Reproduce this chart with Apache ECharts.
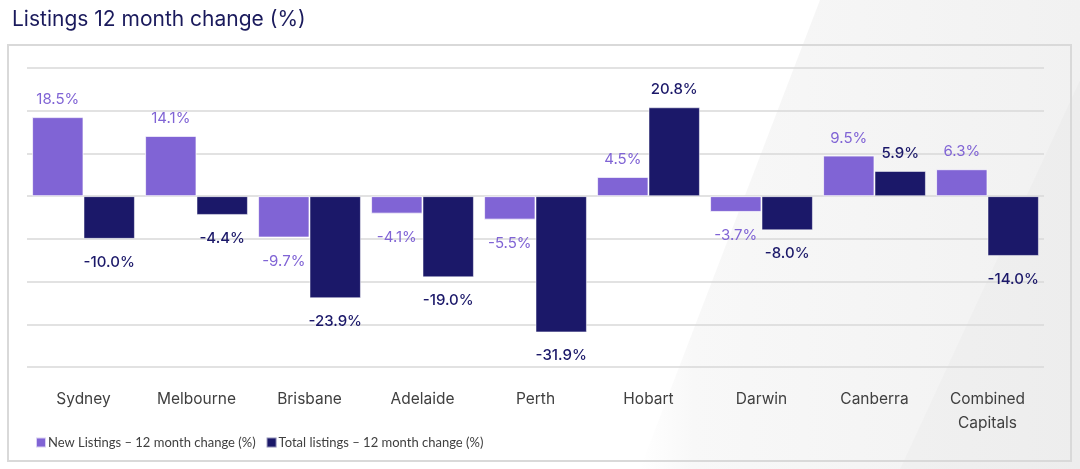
<!DOCTYPE html>
<html>
<head>
<meta charset="utf-8">
<script src="https://cdn.jsdelivr.net/npm/echarts@6/dist/echarts.min.js"></script>
<style>
html,body{margin:0;padding:0;background:#fff;}
#c{width:1080px;height:469px;}
</style>
</head>
<body>
<div id="c"></div>
<script>
const categories = ['Sydney','Melbourne','Brisbane','Adelaide','Perth','Hobart','Darwin','Canberra','Combined\nCapitals'];
const newListings = [18.5, 14.1, -9.7, -4.1, -5.5, 4.5, -3.7, 9.5, 6.3];
const totalListings = [-10.0, -4.4, -23.9, -19.0, -31.9, 20.8, -8.0, 5.9, -14.0];
const seriesNames = ['New Listings \u2013 12 month change (%)', 'Total listings \u2013 12 month change (%)'];
const yTicks = {min: -40, max: 30, interval: 10};

const PURPLE = '#8064d5';
const NAVY = '#1b1869';
const LABEL_FONT = 'Inter, "Open Sans", sans-serif';

function mkData(arr, color, weight) {
  return arr.map(v => ({
    value: v,
    label: {
      show: true,
      position: v < 0 ? 'bottom' : 'top',
      distance: v < 0 ? 16 : 10,
      formatter: p => p.value.toFixed(1) + '%',
      color: color,
      fontSize: 15,
      fontWeight: weight,
      fontFamily: LABEL_FONT
    }
  }));
}

const chart = echarts.init(document.getElementById('c'), null, {renderer: 'canvas'});
chart.setOption({
  animation: false,
  backgroundColor: 'transparent',
  title: {
    text: 'Listings 12 month change (%)',
    left: 7, top: 4,
    textStyle: {color: '#1a1a5c', fontSize: 21, fontWeight: 'normal', fontFamily: 'Inter, "Open Sans", sans-serif'}
  },
  graphic: [
    {type: 'polygon', z: -10, silent: true,
      shape: {points: [[820,0],[1080,0],[1080,469],[640,469]]},
      style: {fill: new echarts.graphic.LinearGradient(0,0,1,0,[{offset:0,color:'#ffffff'},{offset:0.12,color:'#f8f8f8'},{offset:1,color:'#f1f1f1'}])}},
    {type: 'polygon', z: -9, silent: true,
      shape: {points: [[1080,80],[1080,469],[900,469]]},
      style: {fill: 'rgba(0,0,0,0.015)'}},
    {type: 'rect', z: -5, silent: true,
      shape: {x: 8, y: 45, width: 1063, height: 416},
      style: {fill: 'none', stroke: '#d9d9d9', lineWidth: 2}}
  ],
  legend: {
    left: 30, top: 431,
    itemWidth: 10, itemHeight: 10, itemGap: 10,
    icon: 'rect',
    textStyle: {color: '#404040', fontSize: 13, fontFamily: 'Lato, "Open Sans", sans-serif', padding: [0,0,0,-3]},
    data: seriesNames
  },
  grid: {left: 27, right: 36, top: 68, bottom: 102, containLabel: false},
  xAxis: {
    type: 'category',
    data: categories,
    position: 'bottom',
    axisLine: {show: false},
    axisTick: {show: false},
    axisLabel: {
      color: '#404040', fontSize: 15.5, fontFamily: 'Inter, "Open Sans", sans-serif',
      margin: 20, lineHeight: 24, interval: 0
    }
  },
  yAxis: {
    type: 'value',
    min: yTicks.min, max: yTicks.max, interval: yTicks.interval,
    axisLabel: {show: false},
    axisLine: {show: false},
    axisTick: {show: false},
    splitLine: {lineStyle: {color: '#d9d9d9', width: 1.5}}
  },
  series: [
    {name: seriesNames[0], type: 'bar', data: mkData(newListings, PURPLE, 'normal'),
      barGap: '0%', barCategoryGap: '9%',
      itemStyle: {color: PURPLE, borderColor: 'rgba(255,255,255,0.7)', borderWidth: 1}},
    {name: seriesNames[1], type: 'bar', data: mkData(totalListings, NAVY, 500),
      barGap: '0%', barCategoryGap: '9%',
      itemStyle: {color: NAVY, borderColor: 'rgba(255,255,255,0.5)', borderWidth: 1}}
  ]
});
</script>
</body>
</html>
